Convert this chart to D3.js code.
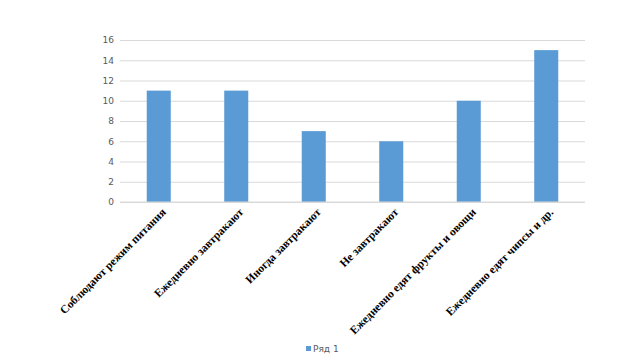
<!DOCTYPE html>
<html>
<head>
<meta charset="utf-8">
<script src="https://cdn.jsdelivr.net/npm/d3@7"></script>
<style>
  body { margin: 0; background: #fff; }
</style>
</head>
<body>
<div id="chart"></div>
<script>
// data
var categories = [
  'Соблюдают режим питания',
  'Ежедневно завтракают',
  'Иногда завтракают',
  'Не завтракают',
  'Ежедневно едят фрукты и овощи',
  'Ежедневно едят чипсы и др.'
];
var values = [11, 11, 7, 6, 10, 15];
var yTicks = [0, 2, 4, 6, 8, 10, 12, 14, 16];
var seriesName = 'Ряд 1';

var attrs = {
  svgWidth: 640,
  svgHeight: 360,
  marginTop: 40,
  marginLeft: 120,
  marginRight: 55,
  marginBottom: 158,
  barColor: '#5b9bd5',
  gridColor: '#d9d9d9',
  tickColor: '#595959'
};

var calc = {};
calc.chartWidth = attrs.svgWidth - attrs.marginLeft - attrs.marginRight;
calc.chartHeight = attrs.svgHeight - attrs.marginTop - attrs.marginBottom;

var svg = d3.select('#chart')
  .append('svg')
  .attr('width', attrs.svgWidth)
  .attr('height', attrs.svgHeight);

var chart = svg.append('g')
  .attr('transform', 'translate(' + attrs.marginLeft + ',' + attrs.marginTop + ')');

var xScale = d3.scaleBand()
  .domain(categories)
  .range([0, calc.chartWidth])
  .paddingInner(0.69)
  .paddingOuter(0.345);

var yScale = d3.scaleLinear()
  .domain([0, 16])
  .range([calc.chartHeight, 0]);

// gridlines + y labels
var yAxis = d3.axisLeft(yScale).tickValues(yTicks).tickSize(-calc.chartWidth).tickPadding(6);
var yG = chart.append('g').attr('class', 'yaxis').call(yAxis);
yG.select('.domain').remove();
yG.selectAll('.tick line')
  .attr('stroke', attrs.gridColor)
  .attr('stroke-width', 1);
yG.selectAll('.tick text')
  .attr('fill', attrs.tickColor)
  .style('font-family', '"DejaVu Sans", sans-serif')
  .style('font-size', '9px');

// bars
chart.selectAll('.bar')
  .data(values)
  .enter()
  .append('rect')
  .attr('class', 'bar')
  .attr('x', function (d, i) { return xScale(categories[i]); })
  .attr('y', function (d) { return yScale(d); })
  .attr('width', xScale.bandwidth())
  .attr('height', function (d) { return calc.chartHeight - yScale(d); })
  .attr('fill', attrs.barColor);

// x axis line
chart.append('line')
  .attr('x1', 0)
  .attr('x2', calc.chartWidth)
  .attr('y1', calc.chartHeight)
  .attr('y2', calc.chartHeight)
  .attr('stroke', attrs.gridColor);

// category labels
chart.selectAll('.cat')
  .data(categories)
  .enter()
  .append('text')
  .attr('class', 'cat')
  .attr('transform', function (d) {
    var x = xScale(d) + xScale.bandwidth() / 2 + 5;
    return 'translate(' + x + ',' + (calc.chartHeight + 8) + ') rotate(-45)';
  })
  .attr('text-anchor', 'end')
  .attr('dy', '0.35em')
  .style('font-family', '"Liberation Serif", "Times New Roman", serif')
  .style('font-weight', 'bold')
  .style('font-size', '11.5px')
  .attr('fill', '#000')
  .text(function (d) { return d; });

// legend
var legend = svg.append('g').attr('transform', 'translate(306,349)');
legend.append('rect')
  .attr('x', 0).attr('y', -3)
  .attr('width', 5).attr('height', 5)
  .attr('fill', attrs.barColor);
legend.append('text')
  .attr('x', 7)
  .attr('y', 0)
  .attr('dy', '0.35em')
  .attr('fill', attrs.tickColor)
  .style('font-family', '"DejaVu Sans", sans-serif')
  .style('font-size', '9px')
  .text(seriesName);
</script>
</body>
</html>
